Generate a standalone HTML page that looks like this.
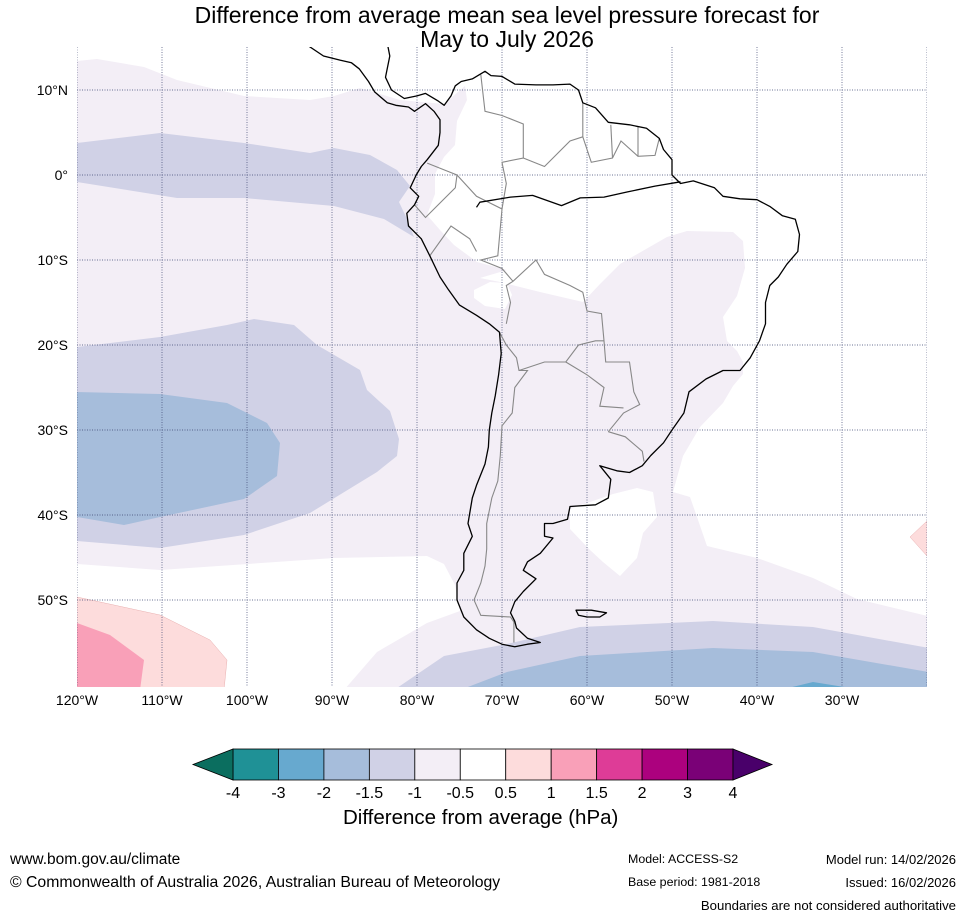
<!DOCTYPE html>
<html><head><meta charset="utf-8">
<style>
html,body{margin:0;padding:0;background:#fff;}
body{width:965px;height:919px;position:relative;overflow:hidden;font-family:"Liberation Sans",sans-serif;}
.t{position:absolute;white-space:nowrap;color:#000;}
</style></head>
<body>
<svg id="map" width="965" height="919" style="position:absolute;left:0;top:0">
<defs><clipPath id="mc"><rect x="77" y="47" width="850" height="640"/></clipPath></defs>
<g clip-path="url(#mc)">
<rect x="77" y="47" width="850" height="640" fill="#f3eef6"/>
<path fill="#fff" d="M60,40 L77,61 L97,59 L144,67 L177,80 L244,96 L310,100 L334,96 L360,88 L400,100 L444,104 L465,86 L467,100 L457,121 L455,145 L444,157 L435,174 L435,194 L427,215 L440,230 L454,245 L477,262 L507,270 L480,278 L500,282 L540,292 L583,302 L600,284 L620,264 L667,237 L687,231 L733,232 L743,241 L745,268 L737,296 L723,317 L727,341 L737,351 L743,362 L743,374 L733,386 L723,403 L700,427 L683,456 L673,492 L690,497 L697,517 L707,546 L757,558 L813,578 L857,599 L940,619 L940,40 Z"/>
<path fill="#fff" d="M474,290 L490,282 L507,283 L512,295 L505,309 L485,306 L474,298 Z"/>
<path fill="#fff" d="M570,509 L613,494 L637,488 L653,492 L657,517 L643,533 L637,558 L620,576 L603,562 L590,550 L570,529 Z"/>
<path fill="#fff" d="M60,564 L77,564 L160,570 L334,558 L427,556 L444,564 L455,585 L460,611 L427,623 L377,652 L344,690 L60,690 Z"/>
<path fill="#d0d1e6" d="M60,143 L77,143 L160,133 L244,143 L310,153 L334,148 L370,155 L397,170 L410,186 L399,202 L407,219 L414,237 L384,219 L334,206 L244,198 L177,198 L77,182 L60,182 Z"/>
<path fill="#d0d1e6" d="M60,347 L77,347 L160,337 L227,325 L254,319 L294,325 L317,345 L360,370 L367,390 L390,411 L399,439 L397,456 L377,472 L310,513 L244,535 L160,548 L77,541 L60,541 Z"/>
<path fill="#d0d1e6" d="M394,690 L444,656 L507,644 L580,627 L713,621 L813,627 L940,650 L940,690 Z"/>
<path fill="#a6bddb" d="M60,392 L77,392 L160,394 L227,403 L267,423 L280,443 L277,476 L244,499 L160,517 L124,525 L77,517 L60,517 Z"/>
<path fill="#a6bddb" d="M460,690 L507,672 L580,656 L713,648 L813,652 L940,674 L940,690 Z"/>
<path fill="#67a9cf" d="M780,690 L813,682 L863,690 Z"/>
<path fill="#fddcdc" stroke="#e8b0b0" stroke-width="0.5" d="M60,597 L77,597 L160,615 L210,640 L227,660 L224,690 L60,690 Z"/>
<path fill="#f9a0b8" d="M60,623 L77,623 L110,635 L144,660 L140,690 L60,690 Z"/>
<path fill="#fddcdc" stroke="#e8b0b0" stroke-width="0.5" d="M910,537 L927,521 L940,521 L940,556 L927,556 Z"/>
<g id="grid"></g>
<g id="land"></g>
</g>
<g id="axlab"></g>
<g id="cbar"></g>
</svg>

<div class="t" style="left:0;width:1014px;top:3px;text-align:center;font-size:23px;line-height:24px;z-index:2;">Difference from average mean sea level pressure forecast for<br>May to July 2026</div>
<div class="t" style="left:343px;top:806px;font-size:20.5px;">Difference from average (hPa)</div>
<div class="t" style="left:10px;top:851px;font-size:15.5px;">www.bom.gov.au/climate</div>
<div class="t" style="left:10px;top:874px;font-size:15.8px;">© Commonwealth of Australia 2026, Australian Bureau of Meteorology</div>
<div class="t" style="left:628px;top:852px;font-size:12.4px;">Model: ACCESS-S2</div>
<div class="t" style="left:628px;top:875px;font-size:12.4px;">Base period: 1981-2018</div>
<div class="t" style="right:9px;top:852px;font-size:13px;">Model run: 14/02/2026</div>
<div class="t" style="right:9px;top:875px;font-size:13px;">Issued: 16/02/2026</div>
<div class="t" style="right:9px;top:898px;font-size:13.2px;">Boundaries are not considered authoritative</div>

<script>
const NS="http://www.w3.org/2000/svg";
const lonTicks=[-120,-110,-100,-90,-80,-70,-60,-50,-40,-30];
const lonLabels=["120°W","110°W","100°W","90°W","80°W","70°W","60°W","50°W","40°W","30°W"];
const latTicks=[10,0,-10,-20,-30,-40,-50];
const latLabels=["10°N","0°","10°S","20°S","30°S","40°S","50°S"];
const cbLevels=["-4","-3","-2","-1.5","-1","-0.5","0.5","1","1.5","2","3","4"];
const cbColors=["#1f9196","#67a9cf","#a6bddb","#d0d1e6","#f3eef6","#ffffff","#fddcdc","#f9a0b8","#de3c97","#ac017e","#7a0177"];
const cbUnder="#0b6e5f", cbOver="#49006a";
const coast=[[-93,16],[-83.5,15.5],[-83.2,14],[-83.7,11.5],[-83,10],[-81.5,9],[-80,9.3],[-79,9.6],[-77.5,8.7],[-76.8,8.2],[-76,9.3],[-75.5,10.5],[-74.8,11],[-73.5,11.3],[-72,12.2],[-71.3,11.7],[-70,11.6],[-68.5,10.7],[-66,10.6],[-64,10.6],[-62,10.7],[-61,10],[-60.5,8.5],[-59,7.9],[-57.5,6.2],[-55,5.9],[-53,5.5],[-51.5,4.3],[-51,3],[-50,1.8],[-50,0],[-49,-1],[-47.5,-0.7],[-45,-1.5],[-44,-2.5],[-42,-2.8],[-40,-2.9],[-38.5,-3.7],[-37,-4.8],[-35.5,-5.2],[-35,-7],[-35.2,-9],[-36.5,-10.5],[-37.5,-12],[-38.5,-13],[-39,-15],[-39,-17.5],[-39.7,-19.5],[-40.8,-21.5],[-42,-23],[-44,-23],[-46,-24],[-48,-25.5],[-48.6,-28],[-50,-30],[-51,-31.5],[-52.5,-33],[-53.5,-34.2],[-55,-35],[-56.5,-34.8],[-58.5,-34.2],[-57.2,-35.8],[-57.5,-38],[-59,-38.8],[-62,-39],[-62.3,-40.5],[-64,-41],[-65,-41],[-65,-42.5],[-64,-42.7],[-65.5,-44.5],[-67,-45.5],[-67.5,-46.5],[-66,-47.5],[-67.5,-49],[-68.5,-50.2],[-69,-51.5],[-68.5,-52.5],[-68.3,-53.3],[-67,-54.5],[-65.5,-55],[-67,-55.2],[-68.5,-55.5],[-70,-55.2],[-71.5,-54.5],[-73,-53.5],[-74.5,-52],[-75.3,-50],[-75.3,-48],[-74.5,-46.5],[-74.5,-44.5],[-73.5,-42.5],[-74,-41],[-73.5,-38],[-73,-36.5],[-72,-34],[-71.6,-32],[-71.5,-30],[-71.2,-28],[-70.8,-26],[-70.4,-23.5],[-70.1,-21],[-70.3,-18.5],[-71.5,-17.5],[-73,-16.5],[-75,-15.3],[-76.3,-13.5],[-77.3,-12],[-78.5,-9.5],[-79.5,-7.5],[-81,-6],[-81.2,-4.5],[-80.3,-3.5],[-79.8,-2.5],[-80.8,-1.5],[-80.1,0],[-79.5,1],[-78.8,1.8],[-77.5,3.5],[-77.3,5],[-77.3,6.5],[-78,7.5],[-79,8.4],[-80.3,7.5],[-81,8],[-82.5,8.2],[-83.5,8.5],[-85,9.8],[-85.7,11],[-86.8,12.5],[-87.7,13.2],[-89,13.5],[-91,14],[-92.5,15],[-94,16]];
const falklands=[[-61.3,-51.2],[-59.5,-51.2],[-57.7,-51.5],[-58.5,-52],[-60,-52],[-61,-51.8]];
const amazon=[[-73,-3.8],[-72.6,-3.2],[-69,-2.6],[-66.4,-2.4],[-63,-3.6],[-60.8,-2.7],[-58,-2.6],[-55.3,-2],[-52,-1.3],[-49,-0.8]];
const borders=[
 [[-70.3,-18.5],[-69.5,-20],[-68.3,-21.5],[-68,-23],[-67,-23],[-68.5,-25],[-68.8,-28],[-70,-29.5],[-70.2,-33],[-70.5,-36],[-71.2,-38],[-71.8,-41],[-71.8,-44],[-72,-46],[-72.5,-48],[-73.3,-50],[-72.5,-51.8],[-69,-52],[-68.6,-52.6],[-68.6,-55]],
 [[-69.5,-17.5],[-69,-15],[-69.5,-13],[-68.7,-12.5],[-66,-10],[-65,-11.7],[-62,-13],[-60.5,-13.8],[-60,-16],[-58.3,-16.3],[-58,-19.5],[-57.8,-22],[-55,-22],[-54.5,-25.5],[-53.8,-27],[-55.7,-28],[-57.5,-30.2]],
 [[-68,-23],[-65,-22],[-62.5,-22],[-61,-20],[-59,-19.5],[-58,-19.5]],
 [[-62.5,-22],[-60,-23.5],[-58,-25],[-58.5,-27.2],[-55.7,-27.4]],
 [[-57.5,-30.2],[-55.5,-30.8],[-53.5,-32.5],[-53.3,-33.7]],
 [[-80.3,-3.5],[-79,-5],[-77,-3],[-75.5,-1.5],[-75.3,0],[-78.8,1.4]],
 [[-75.3,0],[-73,-2.5],[-70,-4],[-70.5,-9.5],[-72.5,-10],[-70,-11],[-68.7,-12.5]],
 [[-70,-4],[-69.5,-1],[-70,1.5],[-67.5,2],[-67.5,6],[-70,7],[-72,7.5],[-72.5,11.8]],
 [[-67.5,2],[-65,1],[-62,4],[-60.5,4.5],[-60.5,8.5]],
 [[-60.5,4.5],[-59.5,1.5],[-57,2],[-56,4],[-54,2.2],[-52,2.3],[-51.5,4.3]],
 [[-57.2,5.9],[-57,2]],[[-54,5.7],[-54,2.2]],
 [[-78.5,-9.5],[-76,-6],[-73.8,-7.5],[-73,-9]]
];
const gx=lon=>77+(lon+120)*8.5, gy=lat=>175-lat*8.5;
function pth(pts,close){return pts.map((p,i)=>(i?"L":"M")+gx(p[0]).toFixed(1)+","+gy(p[1]).toFixed(1)).join(" ")+(close?" Z":"");}
const grid=document.getElementById('grid');
lonTicks.concat([-20]).forEach(l=>{const e=document.createElementNS(NS,'line');


e.setAttribute('x1',gx(l));e.setAttribute('x2',gx(l));e.setAttribute('y1',47);e.setAttribute('y2',687);
e.setAttribute('stroke','#3a4370');e.setAttribute('stroke-width','0.7');e.setAttribute('stroke-dasharray','1,1.5');grid.appendChild(e);});
latTicks.forEach(l=>{const e=document.createElementNS(NS,'line');


e.setAttribute('x1',77);e.setAttribute('x2',927);e.setAttribute('y1',gy(l));e.setAttribute('y2',gy(l));
e.setAttribute('stroke','#3a4370');e.setAttribute('stroke-width','0.7');e.setAttribute('stroke-dasharray','1,1.5');grid.appendChild(e);});
const land=document.getElementById('land');
borders.forEach(b=>{const e=document.createElementNS(NS,'path');


e.setAttribute('d',pth(b,false));e.setAttribute('fill','none');e.setAttribute('stroke','#888');e.setAttribute('stroke-width','1.1');land.appendChild(e);});
[[coast,true,'coastline'],[falklands,true,'falkland-islands'],[amazon,false,'amazon-river']].forEach(c=>{const e=document.createElementNS(NS,'path');


e.setAttribute('d',pth(c[0],c[1]));e.setAttribute('fill','none');e.setAttribute('stroke','#000');e.setAttribute('stroke-width','1.3');e.setAttribute('stroke-linejoin','round');land.appendChild(e);});
const ax=document.getElementById('axlab');
lonTicks.forEach((l,i)=>{const t=document.createElementNS(NS,'text');


t.setAttribute('x',gx(l));t.setAttribute('y',705);t.setAttribute('text-anchor','middle');t.setAttribute('font-size','14');t.setAttribute('font-family','Liberation Sans, sans-serif');t.textContent=lonLabels[i];ax.appendChild(t);});
latTicks.forEach((l,i)=>{const t=document.createElementNS(NS,'text');


t.setAttribute('x',68);t.setAttribute('y',gy(l)+5);t.setAttribute('text-anchor','end');t.setAttribute('font-size','14');t.setAttribute('font-family','Liberation Sans, sans-serif');t.textContent=latLabels[i];ax.appendChild(t);});
const cb=document.getElementById('cbar');
const cbX0=233, cbX1=733, cbY=749, cbH=31;
const cbx=i=>cbX0+(cbX1-cbX0)*i/(cbLevels.length-1);
cbColors.forEach((c,i)=>{const r=document.createElementNS(NS,'rect');


r.setAttribute('x',cbx(i));r.setAttribute('y',cbY);r.setAttribute('width',cbx(i+1)-cbx(i));r.setAttribute('height',cbH);r.setAttribute('fill',c);r.setAttribute('stroke','#000');r.setAttribute('stroke-width','0.8');cb.appendChild(r);});
const tl=document.createElementNS(NS,'polygon');


tl.setAttribute('points',`${cbX0},${cbY} ${cbX0-40},${cbY+cbH/2} ${cbX0},${cbY+cbH}`);tl.setAttribute('fill',cbUnder);tl.setAttribute('stroke','#000');tl.setAttribute('stroke-width','0.8');cb.appendChild(tl);
const tr=document.createElementNS(NS,'polygon');


tr.setAttribute('points',`${cbX1},${cbY} ${cbX1+39},${cbY+cbH/2} ${cbX1},${cbY+cbH}`);tr.setAttribute('fill',cbOver);tr.setAttribute('stroke','#000');tr.setAttribute('stroke-width','0.8');cb.appendChild(tr);
cbLevels.forEach((v,i)=>{const t=document.createElementNS(NS,'text');


t.setAttribute('x',cbx(i));t.setAttribute('y',798);t.setAttribute('text-anchor','middle');t.setAttribute('font-size','16');t.setAttribute('font-family','Liberation Sans, sans-serif');t.textContent=v;cb.appendChild(t);});
</script>
</body></html>
